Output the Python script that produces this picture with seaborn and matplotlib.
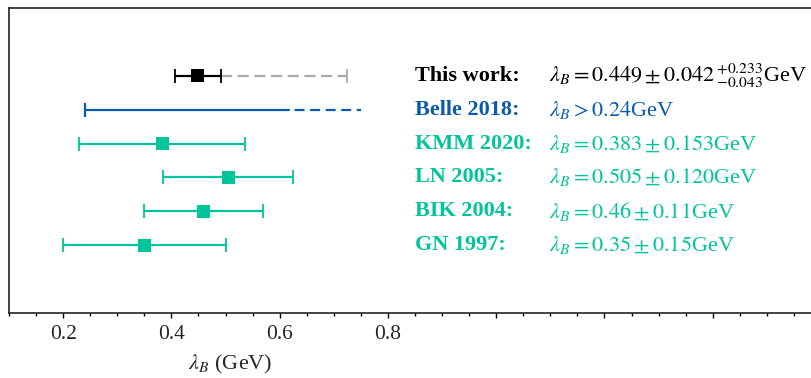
import numpy as np
import pandas as pd
import matplotlib
matplotlib.use("Agg")
import matplotlib.pyplot as plt
import seaborn as sns
from matplotlib.ticker import MultipleLocator, FuncFormatter

# ---------------- data ----------------
names = ["This work:", "Belle 2018:", "KMM 2020:", "LN 2005:", "BIK 2004:", "GN 1997:"]
results = [
    r"$\lambda_B = 0.449 \pm 0.042\,^{+0.233}_{-0.043}$GeV",
    r"$\lambda_B > 0.24$GeV",
    r"$\lambda_B = 0.383 \pm 0.153$GeV",
    r"$\lambda_B = 0.505 \pm 0.120$GeV",
    r"$\lambda_B = 0.46 \pm 0.11$GeV",
    r"$\lambda_B = 0.35 \pm 0.15$GeV",
]
rows = [6, 5, 4, 3, 2, 1]
centers = [0.449, 0.383, 0.505, 0.46, 0.35]      # This work, KMM, LN, BIK, GN
errors = [0.042, 0.153, 0.120, 0.11, 0.15]
center_rows = [6, 4, 3, 2, 1]
this_sys_up = 0.233                               # extra upper (dashed grey)
belle_lower = 0.24
belle_solid_end = 0.618
belle_dash_end = 0.75
x_ticks = [0.2, 0.4, 0.6, 0.8]

BLACK = "#000000"
GREY = "#aaaaaa"
BLUE = "#0a5aad"
TEAL = "#00c49c"
point_colors = [BLACK, TEAL, TEAL, TEAL, TEAL]
text_colors = [BLACK, BLUE, TEAL, TEAL, TEAL, TEAL]

# ---------------- style ----------------
sns.set_theme(style="ticks")
plt.rcParams["font.family"] = ["Liberation Serif", "DejaVu Serif"]
plt.rcParams["mathtext.fontset"] = "stix"

fig = plt.figure(figsize=(8.11, 3.78), dpi=100)
ax = fig.add_axes([9 / 811, 65 / 378, 812 / 811, 305 / 378])

lw = 1.6
cap = 10

# This work: grey dashed upper systematic range
hi = centers[0] + errors[0]
ax.plot([hi, hi + this_sys_up], [rows[0], rows[0]], color=GREY, lw=lw,
        dashes=(5, 2.5), zorder=2)
ax.plot([hi + this_sys_up], [rows[0]], marker="|", ms=cap, mew=1.3,
        color=GREY, zorder=2)

# Belle: lower bound
ax.plot([belle_lower, belle_solid_end], [rows[1], rows[1]], color=BLUE, lw=lw, zorder=2)
ax.plot([belle_solid_end, belle_dash_end], [rows[1], rows[1]], color=BLUE, lw=lw,
        linestyle=(4.5, (4.5, 2.5)), zorder=2)
ax.plot([belle_lower], [rows[1]], marker="|", ms=cap, mew=1.6, color=BLUE, zorder=2)

# error bars
for c, e, r, col in zip(centers, errors, center_rows, point_colors):
    ax.errorbar(c, r, xerr=e, fmt="none", ecolor=col, elinewidth=lw,
                capsize=cap / 2, capthick=1.3, zorder=3)

df = pd.DataFrame({"x": centers, "y": center_rows, "c": point_colors})
sns.scatterplot(data=df, x="x", y="y", hue="c", palette={BLACK: BLACK, TEAL: TEAL},
                marker="s", s=88, linewidth=0, legend=False, ax=ax, zorder=4)

# annotations
for n, t, r, col in zip(names, results, rows, text_colors):
    ax.text(0.85, r, n, color=col, fontsize=16, fontweight="bold",
            va="center", ha="left")
    ax.text(1.097, r, t, color=col, fontsize=16, va="center", ha="left")

ax.set_xlim(0.1, 1.6)
ax.set_ylim(-1, 8)
ax.set_yticks([])
ax.xaxis.set_major_locator(MultipleLocator(0.2))
ax.xaxis.set_minor_locator(MultipleLocator(0.05))
ax.xaxis.set_major_formatter(FuncFormatter(
    lambda v, p: f"{v:.1f}" if any(abs(v - t) < 1e-6 for t in x_ticks) else ""))
ax.tick_params(axis="x", which="major", direction="out", length=3.5, width=1.0,
               labelsize=15.5, pad=5, color="black")
ax.tick_params(axis="x", which="minor", direction="out", length=2.5, width=1.0,
               color="black")
ax.set_xlabel(r"$\lambda_B$ (GeV)", fontsize=16)
ax.xaxis.set_label_coords(0.273, -0.13)
ax.set_ylabel("")
for s in ax.spines.values():
    s.set_color("#222222")
    s.set_linewidth(1.2)

fig.savefig("out.png", dpi=100)
